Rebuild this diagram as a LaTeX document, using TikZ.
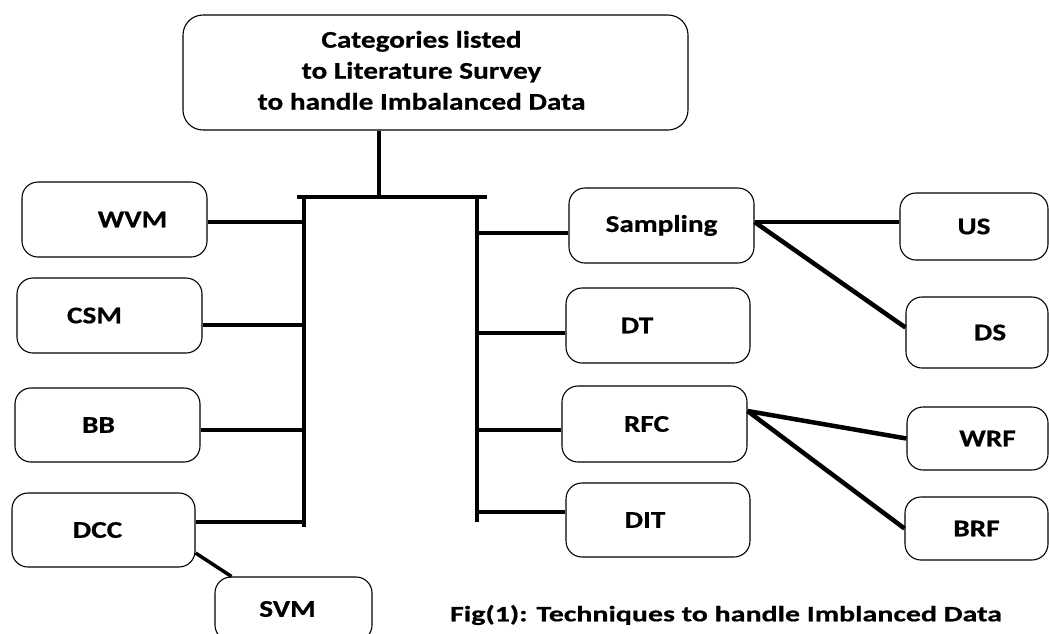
\documentclass[tikz,border=0pt]{standalone}
\usepackage{fontspec}
\setmainfont{Carlito}[FakeStretch=1.22, BoldFeatures={FakeBold=0.6}]
\newfontfamily\capfont{Carlito}[FakeStretch=1.36, BoldFeatures={FakeBold=0.6}]

\begin{document}
\begin{tikzpicture}[x=1pt, y=-1pt,
  box/.style={draw, line width=1.1pt, rounded corners=16pt, inner sep=0pt,
    font=\bfseries\fontsize{24}{31}\selectfont},
  tright/.style={execute at begin node={\hspace*{#1}}},
  tleft/.style={execute at end node={\hspace*{#1}}},
  link/.style={line width=4.5pt}]
  \useasboundingbox (0,0) rectangle (1049,633);

  % Root box
  \node[box, rounded corners=20pt, minimum width=505pt, minimum height=115pt]
    (root) at (435.5,72.5) {\begin{tabular}{@{}c@{\hspace{28pt}}}Categories listed\\
      to Literature Survey\\ to handle Imbalanced Data\end{tabular}};

  % Left boxes
  \node[box, tright=36pt, minimum width=185pt, minimum height=75pt] (wvm) at (114.5,219.5) {WVM};
  \node[box, tleft=30pt, minimum width=185pt, minimum height=75pt] (csm) at (109.5,315.5) {CSM};
  \node[box, tleft=18pt, minimum width=185pt, minimum height=74pt] (bb)  at (107.5,425)   {BB};
  \node[box, tleft=12pt, minimum width=183pt, minimum height=74pt] (dcc) at (103.5,530)   {DCC};
  \node[box, tleft=12pt, minimum width=157pt, minimum height=64pt] (svm) at (293.5,609)   {SVM};

  % Right boxes
  \node[box, minimum width=185pt, minimum height=75pt] (samp) at (661.5,225.5) {Sampling};
  \node[box, tleft=42pt, minimum width=184pt, minimum height=75pt] (dt)   at (658,325.5)   {DT};
  \node[box, tleft=16pt, minimum width=185pt, minimum height=76pt] (rfc)  at (654.5,424)   {RFC};
  \node[box, tleft=26pt, minimum width=184pt, minimum height=74pt] (dit)  at (658,520)     {DIT};
  \node[box, minimum width=148pt, minimum height=67pt] (us)   at (974,226.5)   {US};
  \node[box, tright=26pt, minimum width=142pt, minimum height=71pt] (ds)   at (977,332.5)   {DS};
  \node[box, tright=20pt, minimum width=141pt, minimum height=63pt] (wrf)  at (977.5,438.5) {WRF};
  \node[box, minimum width=143pt, minimum height=63pt] (brf)  at (976.5,528.5) {BRF};

  % Buses
  \coordinate (stem) at (379,197);
  \coordinate (barL) at (297,197);
  \coordinate (barR) at (487,197);
  \coordinate (busL) at (304,527);
  \coordinate (busR) at (477,522);
  \draw[link] (root.south -| stem) -- (stem);
  \draw[link] (barL) -- (barR);
  \draw[link] (busL |- stem) -- (busL);
  \draw[link] (busR |- stem) -- (busR);

  % Left branches
  \coordinate (jW) at (304,222);
  \coordinate (jC) at (304,325);
  \coordinate (jB) at (304,430);
  \coordinate (jD) at (304,522);
  \draw[link] (wvm.east |- jW) -- (jW);
  \draw[link] (csm.east |- jC) -- (jC);
  \draw[link] (bb.east |- jB) -- (jB);
  \draw[link] (dcc.east |- jD) -- (jD);
  \draw[line width=3.5pt] ([yshift=-23pt]dcc.east) -- ([xshift=17pt]svm.north west);

  % Right branches
  \coordinate (jS) at (477,233);
  \coordinate (jT) at (477,333);
  \coordinate (jR) at (477,430);
  \coordinate (jI) at (477,512);
  \draw[link] (jS) -- (samp.west |- jS);
  \draw[link] (jT) -- (dt.west |- jT);
  \draw[link] (jR) -- (rfc.west |- jR);
  \draw[link] (jI) -- (dit.west |- jI);

  % Sub-branches
  \draw[link] ([yshift=3.5pt]samp.east) -- ([yshift=4.5pt]us.west);
  \draw[link] ([yshift=3.5pt]samp.east) -- ([yshift=5pt]ds.west);
  \draw[link] ([yshift=13pt]rfc.east) -- (wrf.west);
  \draw[link] ([yshift=13pt]rfc.east) -- (brf.west);

  % Caption
  \node[font=\capfont\bfseries\fontsize{22}{28}\selectfont] (caption) at (726,615)
    {Fig(1): Techniques to handle Imblanced Data};
\end{tikzpicture}
\end{document}
